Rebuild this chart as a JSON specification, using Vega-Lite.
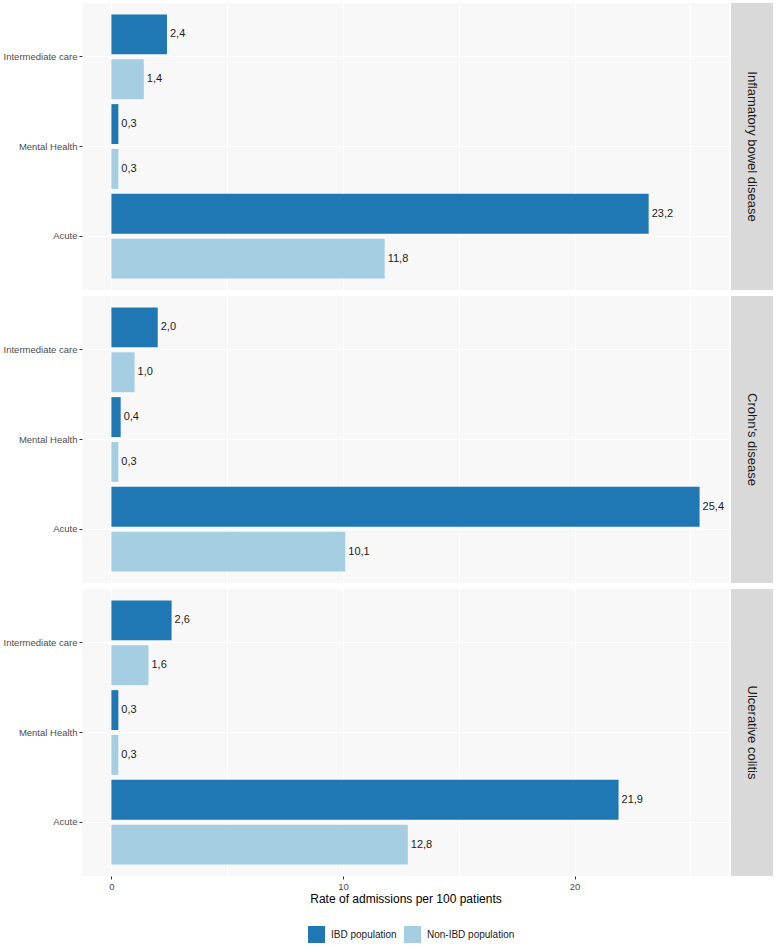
{
  "$schema": "https://vega.github.io/schema/vega-lite/v6.json",
  "padding": {"left": 3, "top": 3, "right": 0, "bottom": 0},
  "background": "white",
  "datasets": {
    "rates": [
      {"disease": "IBD", "type": "Intermediate care", "population": "IBD population", "rate": 2.4},
      {"disease": "IBD", "type": "Intermediate care", "population": "Non-IBD population", "rate": 1.4},
      {"disease": "IBD", "type": "Mental Health", "population": "IBD population", "rate": 0.3},
      {"disease": "IBD", "type": "Mental Health", "population": "Non-IBD population", "rate": 0.3},
      {"disease": "IBD", "type": "Acute", "population": "IBD population", "rate": 23.2},
      {"disease": "IBD", "type": "Acute", "population": "Non-IBD population", "rate": 11.8},
      {"disease": "CD", "type": "Intermediate care", "population": "IBD population", "rate": 2.0},
      {"disease": "CD", "type": "Intermediate care", "population": "Non-IBD population", "rate": 1.0},
      {"disease": "CD", "type": "Mental Health", "population": "IBD population", "rate": 0.4},
      {"disease": "CD", "type": "Mental Health", "population": "Non-IBD population", "rate": 0.3},
      {"disease": "CD", "type": "Acute", "population": "IBD population", "rate": 25.4},
      {"disease": "CD", "type": "Acute", "population": "Non-IBD population", "rate": 10.1},
      {"disease": "UC", "type": "Intermediate care", "population": "IBD population", "rate": 2.6},
      {"disease": "UC", "type": "Intermediate care", "population": "Non-IBD population", "rate": 1.6},
      {"disease": "UC", "type": "Mental Health", "population": "IBD population", "rate": 0.3},
      {"disease": "UC", "type": "Mental Health", "population": "Non-IBD population", "rate": 0.3},
      {"disease": "UC", "type": "Acute", "population": "IBD population", "rate": 21.9},
      {"disease": "UC", "type": "Acute", "population": "Non-IBD population", "rate": 12.8}
    ],
    "strips": [
      {"disease": "IBD", "label": "Inflamatory bowel disease"},
      {"disease": "CD", "label": "Crohn's disease"},
      {"disease": "UC", "label": "Ulcerative colitis"}
    ]
  },
  "config": {
    "font": "Liberation Sans",
    "view": {"stroke": null},
    "locale": {"number": {"decimal": ",", "thousands": ".", "grouping": [3], "currency": ["", ""]}},
    "axis": {
      "labelFont": "Liberation Sans",
      "titleFont": "Liberation Sans",
      "labelColor": "#4d4d4d",
      "tickColor": "#333333",
      "gridColor": "#ffffff",
      "gridWidth": 1,
      "domain": false
    }
  },
  "spacing": 6,
  "vconcat": [
    {
      "spacing": 2,
      "hconcat": [
        {
          "width": 647, "height": 287,
          "view": {"fill": "#f8f8f8"},
          "data": {"name": "rates"},
          "transform": [{"filter": "datum.disease === 'IBD'"}],
          "encoding": {
            "y": {"field": "type", "type": "nominal", "sort": ["Intermediate care", "Mental Health", "Acute"],
              "scale": {"paddingInner": 0, "paddingOuter": 0.1},
              "axis": {"title": null, "labelFontSize": 9.5, "tickSize": 3, "labelPadding": 2, "grid": true, "bandPosition": 0.5}},
            "yOffset": {"field": "population", "type": "nominal", "sort": ["IBD population", "Non-IBD population"],
              "scale": {"paddingInner": 0.11, "paddingOuter": 0.055}},
            "x": {"field": "rate", "type": "quantitative", "stack": null,
              "scale": {"domain": [-1.27, 26.67], "nice": false, "zero": false},
              "axis": {"title": null, "values": [0, 5, 10, 15, 20, 25], "labels": false, "ticks": false, "grid": true}}
          },
          "layer": [
            {"mark": {"type": "bar"},
              "encoding": {"color": {"field": "population", "type": "nominal",
                "scale": {"domain": ["IBD population", "Non-IBD population"], "range": ["#1f78b4", "#a6cee3"]}, "legend": null}}},
            {"mark": {"type": "text", "align": "left", "baseline": "middle", "dx": 3, "fontSize": 11, "color": "#1a1a1a"},
              "encoding": {"text": {"field": "rate", "type": "quantitative", "format": ".1f"}}}
          ]
        },
        {
          "width": 42, "height": 287,
          "view": {"fill": "#d9d9d9"},
          "data": {"name": "strips"},
          "transform": [{"filter": "datum.disease === 'IBD'"}],
          "mark": {"type": "text", "angle": 90, "fontSize": 13, "color": "#1a1a1a", "baseline": "middle", "align": "center"},
          "encoding": {
            "text": {"field": "label"},
            "x": {"field": "label", "type": "nominal", "axis": null},
            "y": {"field": "label", "type": "nominal", "axis": null}
          }
        }
      ]
    },
    {
      "spacing": 2,
      "hconcat": [
        {
          "width": 647, "height": 287,
          "view": {"fill": "#f8f8f8"},
          "data": {"name": "rates"},
          "transform": [{"filter": "datum.disease === 'CD'"}],
          "encoding": {
            "y": {"field": "type", "type": "nominal", "sort": ["Intermediate care", "Mental Health", "Acute"],
              "scale": {"paddingInner": 0, "paddingOuter": 0.1},
              "axis": {"title": null, "labelFontSize": 9.5, "tickSize": 3, "labelPadding": 2, "grid": true, "bandPosition": 0.5}},
            "yOffset": {"field": "population", "type": "nominal", "sort": ["IBD population", "Non-IBD population"],
              "scale": {"paddingInner": 0.11, "paddingOuter": 0.055}},
            "x": {"field": "rate", "type": "quantitative", "stack": null,
              "scale": {"domain": [-1.27, 26.67], "nice": false, "zero": false},
              "axis": {"title": null, "values": [0, 5, 10, 15, 20, 25], "labels": false, "ticks": false, "grid": true}}
          },
          "layer": [
            {"mark": {"type": "bar"},
              "encoding": {"color": {"field": "population", "type": "nominal",
                "scale": {"domain": ["IBD population", "Non-IBD population"], "range": ["#1f78b4", "#a6cee3"]}, "legend": null}}},
            {"mark": {"type": "text", "align": "left", "baseline": "middle", "dx": 3, "fontSize": 11, "color": "#1a1a1a"},
              "encoding": {"text": {"field": "rate", "type": "quantitative", "format": ".1f"}}}
          ]
        },
        {
          "width": 42, "height": 287,
          "view": {"fill": "#d9d9d9"},
          "data": {"name": "strips"},
          "transform": [{"filter": "datum.disease === 'CD'"}],
          "mark": {"type": "text", "angle": 90, "fontSize": 13, "color": "#1a1a1a", "baseline": "middle", "align": "center"},
          "encoding": {
            "text": {"field": "label"},
            "x": {"field": "label", "type": "nominal", "axis": null},
            "y": {"field": "label", "type": "nominal", "axis": null}
          }
        }
      ]
    },
    {
      "spacing": 2,
      "hconcat": [
        {
          "width": 647, "height": 287,
          "view": {"fill": "#f8f8f8"},
          "data": {"name": "rates"},
          "transform": [{"filter": "datum.disease === 'UC'"}],
          "encoding": {
            "y": {"field": "type", "type": "nominal", "sort": ["Intermediate care", "Mental Health", "Acute"],
              "scale": {"paddingInner": 0, "paddingOuter": 0.1},
              "axis": {"title": null, "labelFontSize": 9.5, "tickSize": 3, "labelPadding": 2, "grid": true, "bandPosition": 0.5}},
            "yOffset": {"field": "population", "type": "nominal", "sort": ["IBD population", "Non-IBD population"],
              "scale": {"paddingInner": 0.11, "paddingOuter": 0.055}},
            "x": {"field": "rate", "type": "quantitative", "stack": null,
              "scale": {"domain": [-1.27, 26.67], "nice": false, "zero": false},
              "axis": {"title": "Rate of admissions per 100 patients", "values": [0, 5, 10, 15, 20, 25],
                "labelExpr": "datum.value % 10 === 0 ? datum.label : ''",
                "tickOpacity": {"condition": {"test": "datum.value % 10 === 0", "value": 1}, "value": 0},
                "labelFontSize": 9.5, "tickSize": 3, "labelPadding": 2,
                "titleFontSize": 12, "titleFontWeight": "normal", "titleColor": "#000000", "titlePadding": 3, "grid": true}}
          },
          "layer": [
            {"mark": {"type": "bar"},
              "encoding": {"color": {"field": "population", "type": "nominal", "title": null,
                "scale": {"domain": ["IBD population", "Non-IBD population"], "range": ["#1f78b4", "#a6cee3"]},
                "legend": {"orient": "none", "legendX": 226, "legendY": 337, "direction": "horizontal",
                  "symbolType": "square", "symbolSize": 289, "symbolStrokeWidth": 0, "symbolOpacity": 1,
                  "labelFontSize": 10, "labelColor": "#1a1a1a", "labelOffset": 6, "columnPadding": 7, "padding": 0}}}},
            {"mark": {"type": "text", "align": "left", "baseline": "middle", "dx": 3, "fontSize": 11, "color": "#1a1a1a"},
              "encoding": {"text": {"field": "rate", "type": "quantitative", "format": ".1f"}}}
          ]
        },
        {
          "width": 42, "height": 287,
          "view": {"fill": "#d9d9d9"},
          "data": {"name": "strips"},
          "transform": [{"filter": "datum.disease === 'UC'"}],
          "mark": {"type": "text", "angle": 90, "fontSize": 13, "color": "#1a1a1a", "baseline": "middle", "align": "center"},
          "encoding": {
            "text": {"field": "label"},
            "x": {"field": "label", "type": "nominal", "axis": null},
            "y": {"field": "label", "type": "nominal", "axis": null}
          }
        }
      ]
    }
  ],
  "resolve": {"scale": {"x": "independent", "y": "independent", "color": "independent", "yOffset": "independent"}}
}
